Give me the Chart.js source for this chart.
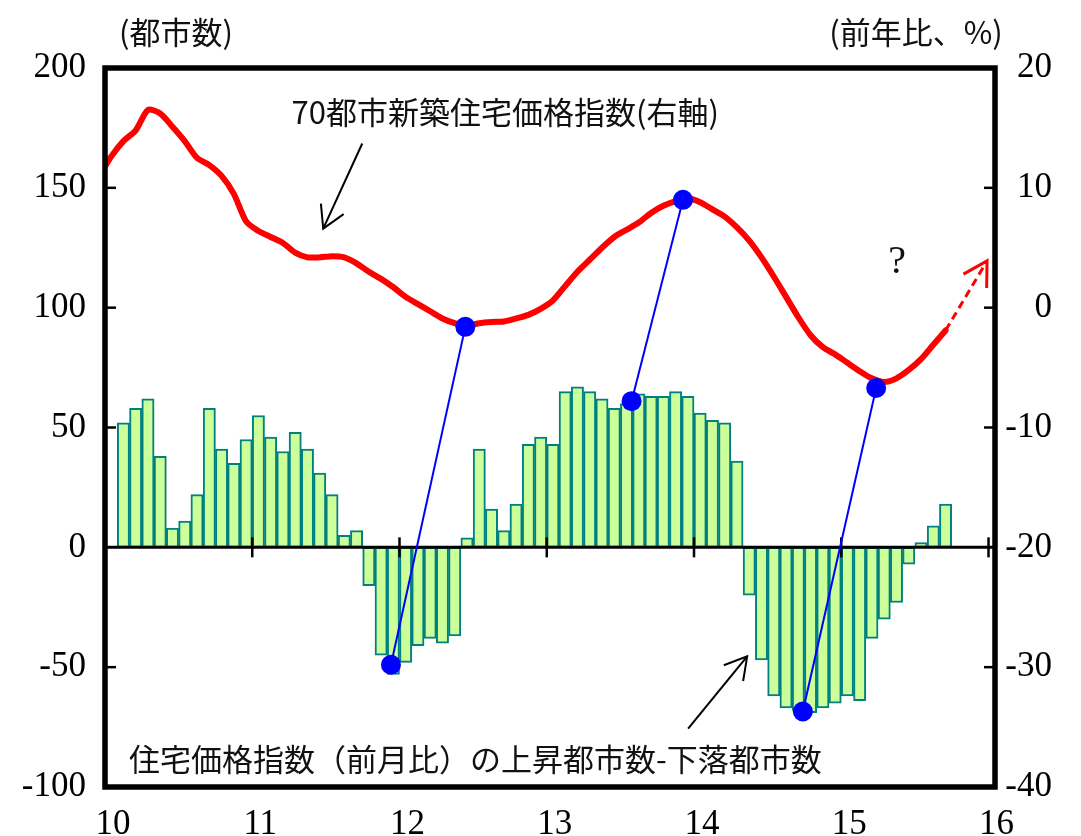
<!DOCTYPE html>
<html><head><meta charset="utf-8">
<script src="https://cdn.jsdelivr.net/npm/chart.js@4.4.1/dist/chart.umd.min.js"></script>
<style>html,body{margin:0;padding:0;background:#fff}</style>
</head><body>
<canvas id="c" width="1081" height="836"></canvas>
<script>
// ---------- data ----------
function monthRange(start, end) {
  const out = [];
  let [y, m] = start.split('-').map(Number);
  const [ey, em] = end.split('-').map(Number);
  while (y < ey || (y === ey && m <= em)) {
    out.push(y + '-' + String(m).padStart(2, '0'));
    m++; if (m > 12) { m = 1; y++; }
  }
  return out;
}
// categories
const barMonths = monthRange('2010-02', '2015-09');
const lineMonths = monthRange('2009-12', '2015-09');
const xTickLabels = [10, 11, 12, 13, 14, 15, 16];
const leftTicks = [-100, -50, 0, 50, 100, 150, 200];
const rightTicks = [-40, -30, -20, -10, 0, 10, 20];

// 住宅価格指数（前月比）の上昇都市数-下落都市数 (left axis)
const risingMinusFalling = [
  52, 58, 62, 38, 8, 11, 22, 58, 41, 35, 45,
  55, 46, 40, 48, 41, 31, 22, 5, 7, -16, -45, -53,
  -48, -41, -38, -40, -37, 4, 41, 16, 7, 18, 43, 46,
  43, 65, 67, 65, 62, 58, 60, 64, 63, 63, 65, 63,
  56, 53, 52, 36, -20, -47, -62, -67, -68, -69, -67, -65,
  -62, -64, -38, -30, -23, -7, 2, 9, 18
];
// 70都市新築住宅価格指数 前年比% (right axis)
const priceIndexYoY = [
  10.9,
  12.6, 13.9, 14.8, 16.5, 16.2, 15.1, 13.9, 12.5, 11.9, 11.0, 9.5, 7.2,
  6.4, 5.9, 5.4, 4.6, 4.2, 4.2, 4.3, 4.2, 3.7, 3.0, 2.4, 1.7,
  0.9, 0.3, -0.3, -0.9, -1.3, -1.5, -1.3, -1.2, -1.15, -0.9, -0.6, -0.1,
  0.6, 1.8, 3.0, 4.0, 5.0, 5.9, 6.5, 7.1, 7.9, 8.5, 8.9, 9.1,
  8.8, 8.2, 7.6, 6.7, 5.6, 4.2, 2.6, 0.9, -0.8, -2.3, -3.3, -3.9,
  -4.6, -5.3, -5.9, -6.2, -5.9, -5.2, -4.3, -3.1, -1.9
];
// turning-point markers (blue dots) and their links
const dotBarYear = [11.942, 13.576, 14.739];
const dotBarCount = [-49, 61, -68.5];
const dotLineYear = [12.447, 13.925, 15.237];
const dotLinePct = [-1.6, 9.0, -6.7];
// forecast arrow tip (year, %)
const forecastTipYear = 15.99;
const forecastTipPct = 3.9;

// ---------- helpers ----------
const toX = s => { const [y, m] = s.split('-').map(Number); return (y - 2000) + (m - 0.5) / 12; };
const barData = barMonths.map((m, i) => ({ x: toX(m), y: risingMinusFalling[i] }));
const lineData = lineMonths.map((m, i) => ({ x: toX(m), y: priceIndexYoY[i] }));
const lastPt = lineData[lineData.length - 1];
const forecastData = [{ x: lastPt.x, y: lastPt.y }, { x: forecastTipYear, y: forecastTipPct }];
const dotsBar = dotBarYear.map((x, i) => ({ x, y: dotBarCount[i] }));
const dotsLine = dotLineYear.map((x, i) => ({ x, y: dotLinePct[i] }));

const TICK_FONT = { family: 'Liberation Serif', size: 35 };
const JP_FONT = '31px "Noto Sans CJK JP"';

function arrow(ctx, x1, y1, x2, y2, len, ang) {
  ctx.beginPath(); ctx.moveTo(x1, y1); ctx.lineTo(x2, y2); ctx.stroke();
  const a = Math.atan2(y2 - y1, x2 - x1);
  ctx.setLineDash([]);
  ctx.beginPath();
  ctx.moveTo(x2 - len * Math.cos(a - ang), y2 - len * Math.sin(a - ang));
  ctx.lineTo(x2, y2);
  ctx.lineTo(x2 - len * Math.cos(a + ang), y2 - len * Math.sin(a + ang));
  ctx.stroke();
}

const decor = {
  id: 'decor',
  afterDatasetDraw(chart, args) {
    const { ctx, chartArea: a, scales: { x, y } } = chart;
    if (args.index === 0) {
      const y0 = y.getPixelForValue(0);
      ctx.save();
      ctx.strokeStyle = '#000'; ctx.lineWidth = 3;
      ctx.beginPath(); ctx.moveTo(a.left, y0); ctx.lineTo(a.right, y0); ctx.stroke();
      ctx.lineWidth = 2.5;
      xTickLabels.forEach(v => {
        if (v === 10) return;
        const px = x.getPixelForValue(v);
        ctx.beginPath(); ctx.moveTo(px, y0 - 10); ctx.lineTo(px, y0 + 10); ctx.stroke();
      });
      ctx.restore();
    }
    if (args.index === 1) {
      const m1 = chart.getDatasetMeta(3).data, m2 = chart.getDatasetMeta(4).data;
      ctx.save();
      ctx.strokeStyle = '#0000FF'; ctx.lineWidth = 2;
      m1.forEach((p, i) => {
        ctx.beginPath(); ctx.moveTo(p.x, p.y); ctx.lineTo(m2[i].x, m2[i].y); ctx.stroke();
      });
      ctx.restore();
    }
  },
  afterDatasetsDraw(chart) {
    const { ctx, scales: { x, y, y1 } } = chart;
    ctx.save();
    // forecast arrow head
    const f = chart.getDatasetMeta(2).data;
    ctx.strokeStyle = '#FF0000'; ctx.lineWidth = 3;
    const a = Math.atan2(f[1].y - f[0].y, f[1].x - f[0].x), L = 27, g = Math.PI / 6;
    ctx.beginPath();
    ctx.moveTo(f[1].x - L * Math.cos(a - g), f[1].y - L * Math.sin(a - g));
    ctx.lineTo(f[1].x, f[1].y);
    ctx.lineTo(f[1].x - L * Math.cos(a + g), f[1].y - L * Math.sin(a + g));
    ctx.stroke();
    // annotation arrows
    ctx.strokeStyle = '#000'; ctx.lineWidth = 2;
    arrow(ctx, x.getPixelForValue(11.747), y1.getPixelForValue(13.7),
               x.getPixelForValue(11.482), y1.getPixelForValue(6.6), 25, Math.PI / 6);
    arrow(ctx, x.getPixelForValue(13.96), y.getPixelForValue(-75.6),
               x.getPixelForValue(14.361), y.getPixelForValue(-45.5), 25, Math.PI / 6);
    // texts
    ctx.fillStyle = '#111'; ctx.textAlign = 'center'; ctx.textBaseline = 'middle';
    ctx.font = JP_FONT;
    ctx.fillText('70都市新築住宅価格指数(右軸)', x.getPixelForValue(12.718), y1.getPixelForValue(16.3));
    ctx.fillText('住宅価格指数（前月比）の上昇都市数-下落都市数', x.getPixelForValue(12.515), y.getPixelForValue(-88.2));
    ctx.font = '40px "Liberation Serif"';
    ctx.fillText('?', x.getPixelForValue(15.379), y1.getPixelForValue(3.8));
    ctx.restore();
  },
  afterDraw(chart) {
    const { ctx, chartArea: a, scales: { y, y1 } } = chart;
    ctx.save();
    ctx.strokeStyle = '#000';
    ctx.lineWidth = 2.5;
    leftTicks.forEach(v => {
      if (v === 200 || v === -100 || v === 0) return;
      const py = y.getPixelForValue(v);
      ctx.beginPath(); ctx.moveTo(a.left, py); ctx.lineTo(a.left + 11, py); ctx.stroke();
    });
    rightTicks.forEach(v => {
      if (v === 20 || v === -40 || v === -20) return;
      const py = y1.getPixelForValue(v);
      ctx.beginPath(); ctx.moveTo(a.right, py); ctx.lineTo(a.right - 11, py); ctx.stroke();
    });
    ctx.lineWidth = 5.5;
    ctx.strokeRect(a.left, a.top, a.right - a.left, a.bottom - a.top);
    ctx.fillStyle = '#111'; ctx.textAlign = 'center'; ctx.textBaseline = 'middle';
    ctx.font = JP_FONT;
    ctx.fillText('(都市数)', a.left + 71, 32);
    ctx.fillText('(前年比、%)', a.right - 79, 32);
    ctx.restore();
  }
};

new Chart(document.getElementById('c'), {
  type: 'bar',
  data: {
    datasets: [
      { type: 'bar', data: barData, yAxisID: 'y', backgroundColor: '#CCFF99', borderColor: '#008080',
        borderWidth: 2, borderSkipped: false, barPercentage: 1, categoryPercentage: 1, order: 4 },
      { type: 'line', data: lineData, yAxisID: 'y1', borderColor: '#FF0000', borderWidth: 6,
        pointRadius: 0, tension: 0.25, borderCapStyle: 'round', borderJoinStyle: 'round', order: 3 },
      { type: 'line', data: forecastData, yAxisID: 'y1', borderColor: '#FF0000', borderWidth: 3,
        borderDash: [8, 5], pointRadius: 0, order: 3 },
      { type: 'scatter', data: dotsBar, yAxisID: 'y', pointRadius: 10, backgroundColor: '#0000FF',
        borderWidth: 0, order: 1 },
      { type: 'scatter', data: dotsLine, yAxisID: 'y1', pointRadius: 10, backgroundColor: '#0000FF',
        borderWidth: 0, order: 1 }
    ]
  },
  options: {
    responsive: false, animation: false,
    layout: { padding: { top: 68, right: 29, left: 0, bottom: 0 } },
    plugins: { legend: { display: false }, tooltip: { enabled: false } },
    scales: {
      x: {
        type: 'linear', min: 10, max: 16.044, position: 'bottom', offset: false,
        grid: { display: false, drawTicks: false, offset: false }, border: { display: false },
        afterBuildTicks(s) { s.ticks = xTickLabels.map(v => ({ value: v })); },
        afterFit(s) { s.height = 49; },
        ticks: { autoSkip: false, maxRotation: 0, padding: 17, labelOffset: 8, color: '#000', font: TICK_FONT,
                 callback: v => String(v) }
      },
      y: {
        position: 'left', min: -100, max: 200,
        grid: { display: false, drawTicks: false }, border: { display: false },
        afterBuildTicks(s) { s.ticks = leftTicks.map(v => ({ value: v })); },
        afterFit(s) { s.width = 105; },
        ticks: { padding: 19, color: '#000', font: TICK_FONT, callback: v => String(v) }
      },
      y1: {
        position: 'right', min: -40, max: 20,
        grid: { display: false, drawTicks: false }, border: { display: false },
        afterBuildTicks(s) { s.ticks = rightTicks.map(v => ({ value: v })); },
        afterFit(s) { s.width = 57; },
        ticks: { padding: 19, crossAlign: 'far', color: '#000', font: TICK_FONT, callback: v => String(v) }
      }
    }
  },
  plugins: [decor]
});
</script>
</body></html>
